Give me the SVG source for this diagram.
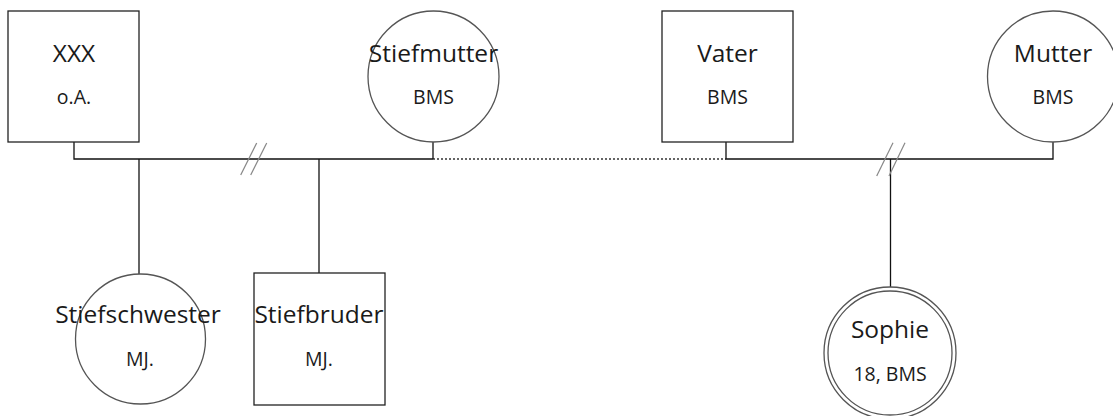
<svg xmlns="http://www.w3.org/2000/svg" width="1113" height="416" viewBox="0 0 1113 416">
<style>
.box{fill:#fff;stroke:#222;stroke-width:1.3}
.circ{fill:#fff;stroke:#555;stroke-width:1.3}
.ln{fill:none;stroke:#111;stroke-width:1.3}
.dot{fill:none;stroke:#333;stroke-width:1.6;stroke-dasharray:2,2}
.sl{fill:none;stroke:#888;stroke-width:1.2}
.t1{font-family:"Open Sans","Noto Sans",sans-serif;font-size:24.5px;fill:#1a1a1a;text-anchor:middle}
.t2{font-family:"Open Sans","Noto Sans",sans-serif;font-size:19.5px;fill:#1a1a1a;text-anchor:middle}
</style>
<rect width="1113" height="416" fill="#fff"/>
<g id="connectors">
<polyline class="ln" points="74,142 74,159 433,159"/>
<line class="dot" x1="433" y1="159" x2="726" y2="159"/>
<polyline class="ln" points="726,142 726,159 1053,159 1053,142"/>
<line class="ln" x1="433" y1="142" x2="433" y2="159"/>
<line class="ln" x1="139" y1="159" x2="139" y2="274"/>
<line class="ln" x1="319" y1="159" x2="319" y2="273"/>
<line class="ln" x1="890.5" y1="159" x2="890.5" y2="287"/>
<line class="sl" x1="240.7" y1="175" x2="256.7" y2="143"/>
<line class="sl" x1="250.7" y1="175" x2="266.7" y2="143"/>
<line class="sl" x1="876.7" y1="176" x2="893" y2="142.7"/>
<line class="sl" x1="889" y1="176" x2="905" y2="142.7"/>
</g>
<g id="xxx">
<rect class="box" x="8" y="11" width="131" height="131"/>
<text class="t1" x="74" y="62">XXX</text>
<text class="t2" x="74" y="104">o.A.</text>
</g>
<g id="stiefmutter">
<circle class="circ" cx="433.5" cy="76.5" r="65.5"/>
<text class="t1" x="433.5" y="62">Stiefmutter</text>
<text class="t2" x="433.5" y="104">BMS</text>
</g>
<g id="vater">
<rect class="box" x="662" y="11" width="131" height="131"/>
<text class="t1" x="727.5" y="62">Vater</text>
<text class="t2" x="727.5" y="104">BMS</text>
</g>
<g id="mutter">
<circle class="circ" cx="1053" cy="76.5" r="65.5"/>
<text class="t1" x="1053" y="62">Mutter</text>
<text class="t2" x="1053" y="104">BMS</text>
</g>
<g id="stiefschwester">
<circle class="circ" cx="140.5" cy="339" r="65"/>
<text class="t1" x="138" y="323">Stiefschwester</text>
<text class="t2" x="140" y="366">MJ.</text>
</g>
<g id="stiefbruder">
<rect class="box" x="254" y="273" width="131" height="132"/>
<text class="t1" x="319" y="323">Stiefbruder</text>
<text class="t2" x="319" y="366">MJ.</text>
</g>
<g id="sophie">
<circle class="circ" cx="890" cy="353" r="66"/>
<circle class="circ" cx="890" cy="353" r="62" fill="none"/>
<text class="t1" x="890" y="338">Sophie</text>
<text class="t2" x="890" y="381">18, BMS</text>
</g>
</svg>
